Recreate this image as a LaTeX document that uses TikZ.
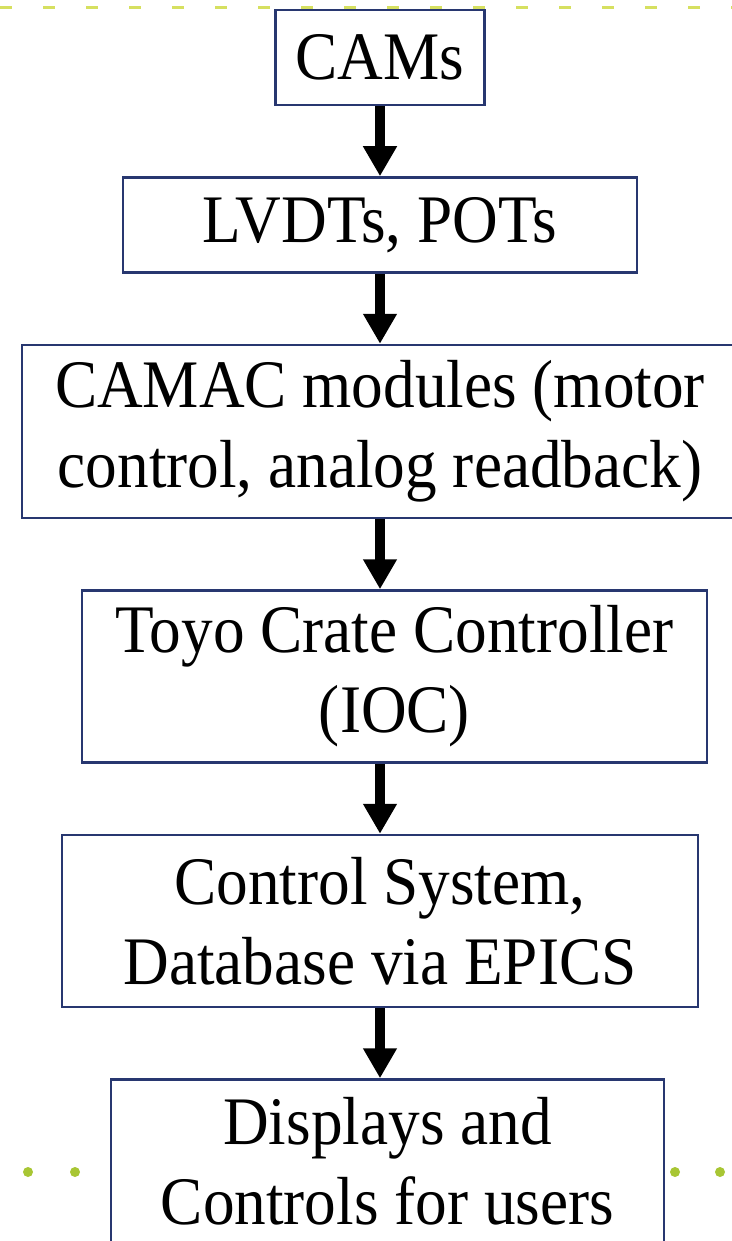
\documentclass[tikz,border=0pt]{standalone}
\usepackage{fontspec}
\setmainfont{Liberation Serif}[FakeStretch=0.93]
\usetikzlibrary{arrows.meta,positioning}
\definecolor{boxblue}{RGB}{40,55,112}
\definecolor{dashgreen}{RGB}{214,224,96}
\definecolor{dotgreen}{RGB}{168,198,52}

\begin{document}
\begin{tikzpicture}[x=1pt,y=-1pt,node distance=70pt,
    box/.style={draw=boxblue,line width=2.5pt,fill=white,align=center,
      inner sep=0pt,font=\fontsize{68pt}{80pt}\selectfont},
    flow/.style={line width=10pt,-{Triangle[length=30pt,width=32pt]}}]
  \useasboundingbox (0,0) rectangle (731,1241);

  % slide background
  \foreach \x in {0,43,...,731}
    \draw[dashgreen,line width=3pt] (\x,8) -- ++(12,0);
  \foreach \x in {28,75,675,720}
    \fill[dotgreen] (\x,1172) circle (5);

  \node[box,minimum width=209pt,minimum height=95pt] (cams) at (380,57.5) {CAMs};
  \node[box,minimum width=514pt,minimum height=95pt] (lvdt) [below=of cams] {LVDTs, POTs};
  \node[box,minimum width=716pt,minimum height=173pt] (camac) [below=of lvdt]
    {CAMAC modules (motor\\control, analog readback)};
  \node[box,minimum width=625pt,minimum height=172pt] (toyo) [below=of camac,xshift=14.5pt]
    {Toyo Crate Controller\\(IOC)};
  \node[box,minimum width=636pt,minimum height=172pt] (ctrl) [below=of toyo,xshift=-14.5pt]
    {Control System,\\Database via EPICS};
  \node[box,minimum width=553pt,minimum height=164pt] (disp) [below=of ctrl,xshift=7.5pt]
    {Displays and\\Controls for users};

  \draw[flow] (cams) -- (lvdt);
  \draw[flow] (lvdt) -- (camac);
  \draw[flow] (camac) -- (camac.south |- toyo.north);
  \draw[flow] (toyo.south -| camac) -- (ctrl);
  \draw[flow] (ctrl) -- (ctrl |- disp.north);
\end{tikzpicture}
\end{document}
